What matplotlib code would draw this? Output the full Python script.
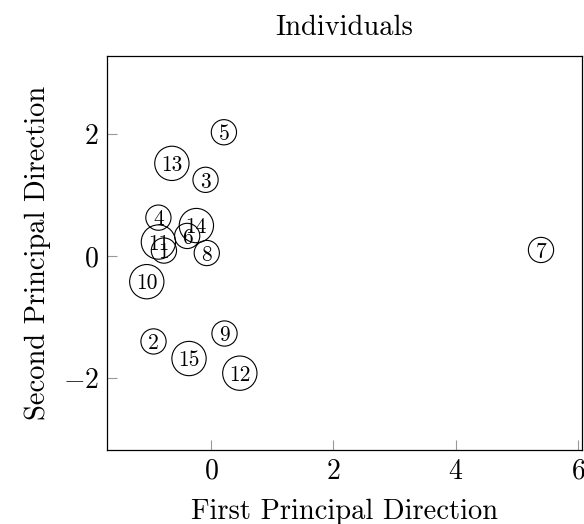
"""Individuals plot: first vs second principal direction, circled labels."""

import matplotlib
matplotlib.use("Agg")
import matplotlib.pyplot as plt

plt.rcParams["font.family"] = "serif"
plt.rcParams["font.serif"] = ["cmr10"]
plt.rcParams["mathtext.fontset"] = "cm"
plt.rcParams["axes.formatter.use_mathtext"] = True

LABELS = [str(i) for i in range(1, 16)]
PC1 = [-0.77, -0.94, -0.09, -0.86, 0.21, -0.39, 5.39, -0.07,
       0.22, -1.05, -0.86, 0.47, -0.64, -0.24, -0.36]
PC2 = [0.09, -1.40, 1.25, 0.63, 2.03, 0.33, 0.10, 0.05,
       -1.27, -0.42, 0.23, -1.92, 1.52, 0.50, -1.68]

XTICKS = [0, 2, 4, 6]
YTICKS = [-2, 0, 2]


def main():
    fig = plt.figure(figsize=(5.84, 5.24), dpi=100)
    ax = fig.add_axes([0.1832, 0.1412, 0.8134, 0.7519])

    # circle size follows label width, like tikz nodes
    sizes = [330 if len(s) == 1 else 610 for s in LABELS]
    ax.scatter(PC1, PC2, s=sizes, facecolors="none", edgecolors="black",
               linewidths=0.8, zorder=2)
    for x, y, s in zip(PC1, PC2, LABELS):
        ax.text(x, y, s, ha="center", va="center_baseline", fontsize=15.5,
                zorder=3)

    ax.set_xlim(-1.70, 6.06)
    ax.set_ylim(-3.18, 3.28)
    ax.set_xticks(XTICKS)
    ax.set_yticks(YTICKS)
    ax.tick_params(direction="in", length=7, width=0.8, color="#999999",
                   labelsize=20, pad=6)
    for sp in ax.spines.values():
        sp.set_linewidth(0.9)

    ax.set_title("Individuals", fontsize=20.5, pad=15)
    ax.set_xlabel("First Principal Direction", fontsize=20.5, labelpad=10)
    ax.set_ylabel("Second Principal Direction", fontsize=20.5, labelpad=8)

    fig.savefig("out.png", dpi=100)
    plt.close(fig)


if __name__ == "__main__":
    main()
